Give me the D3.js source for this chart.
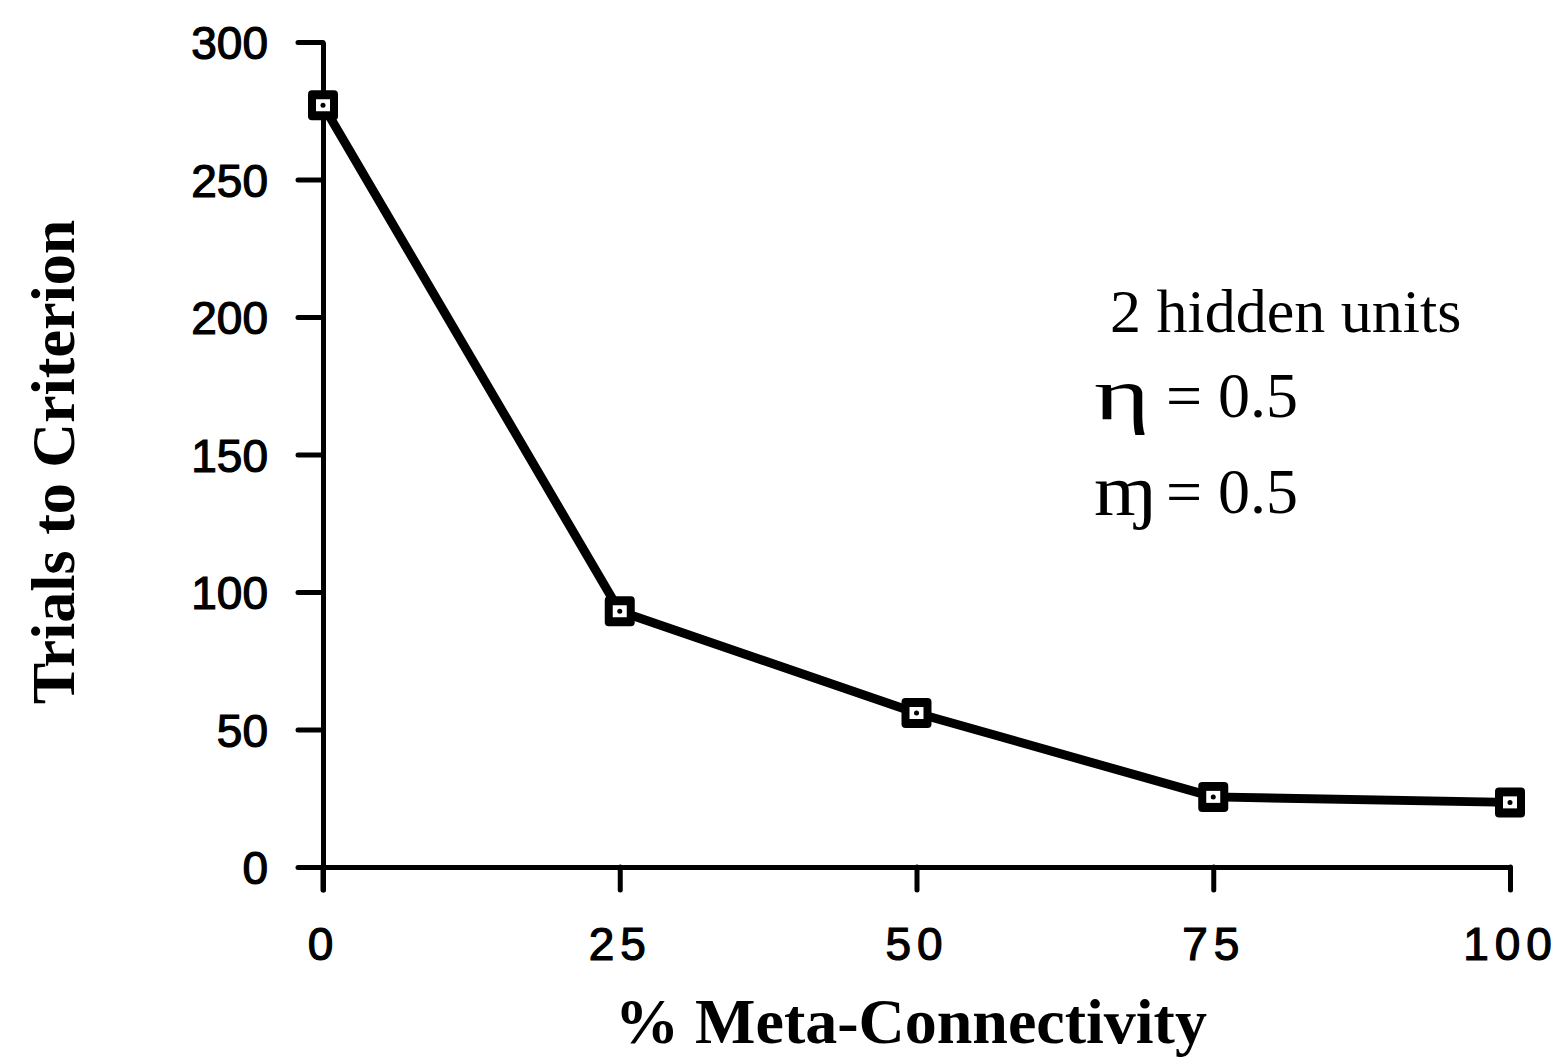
<!DOCTYPE html>
<html>
<head>
<meta charset="utf-8">
<script src="https://cdn.jsdelivr.net/npm/d3@7"></script>
<style>
  body { margin: 0; background: #fff; }
  svg { display: block; }
</style>
</head>
<body>
<svg id="chart" width="1562" height="1057"></svg>
<script>
// data
const connectivity = [0, 25, 50, 75, 100];
const trials = [277, 93, 56, 25.5, 23.5];
const yTicks = [0, 50, 100, 150, 200, 250, 300];
const noteTitle = "2 hidden units";
const noteParams = [["\u03B7", "0.5"], ["\u0271", "0.5"]];

const svg = d3.select("#chart");
const x = d3.scaleLinear().domain([0, 100]).range([323, 1510]);
const y = d3.scaleLinear().domain([0, 300]).range([867, 42]);

const ink = "#000";
const sans = "'Liberation Sans', Arial, sans-serif";
const serif = "'Liberation Serif', 'Times New Roman', serif";

// axes, drawn thick like the original print
const xAxis = d3.axisBottom(x).tickValues(connectivity).tickSize(23).tickSizeOuter(0);
const yAxis = d3.axisLeft(y).tickValues(yTicks).tickSize(25).tickSizeOuter(0);

const gx = svg.append("g").attr("transform", `translate(0,${y(0)})`).call(xAxis);
const gy = svg.append("g").attr("transform", `translate(${x(0)},0)`).call(yAxis);

[gx, gy].forEach(g => {
  g.select(".domain").attr("stroke", ink).attr("stroke-width", 5);
  g.selectAll(".tick line").attr("stroke", ink).attr("stroke-width", 5).attr("stroke-linecap", "round");
  g.selectAll(".tick text")
    .attr("fill", ink)
    .attr("stroke", ink)
    .attr("stroke-width", 1.2)
    .attr("font-family", sans)
    .attr("font-size", 46);
});
// x labels are printed with wide letter spacing
gx.selectAll(".tick text")
  .attr("y", 93).attr("dy", 0)
  .attr("letter-spacing", 6);
gy.selectAll(".tick text").attr("x", -55).attr("dy", "0.36em");

// y axis continues below the 0 line, like the original
svg.append("line")
  .attr("x1", x(0)).attr("x2", x(0))
  .attr("y1", y(0)).attr("y2", y(0) + 23)
  .attr("stroke", ink).attr("stroke-width", 5).attr("stroke-linecap", "round");

// data line
const line = d3.line().x((d, i) => x(connectivity[i])).y(d => y(d));
svg.append("path")
  .datum(trials)
  .attr("d", line)
  .attr("fill", "none")
  .attr("stroke", ink)
  .attr("stroke-width", 9)
  .attr("stroke-linejoin", "round");

// square markers with a white centre and a dot
const pts = svg.append("g").selectAll("g").data(trials).join("g")
  .attr("transform", (d, i) => `translate(${x(connectivity[i])},${y(d)})`);
pts.append("rect").attr("x", -15).attr("y", -15).attr("width", 30).attr("height", 30)
  .attr("rx", 4).attr("fill", ink);
pts.append("rect").attr("x", -7).attr("y", -6).attr("width", 14).attr("height", 12)
  .attr("fill", "#fff");
pts.append("circle").attr("r", 2.5).attr("fill", ink);

// axis titles
svg.append("text")
  .attr("x", 911).attr("y", 1043)
  .attr("text-anchor", "middle")
  .attr("font-family", serif)
  .attr("font-weight", "bold")
  .attr("font-size", 64)
  .text("% Meta-Connectivity");

svg.append("text")
  .attr("transform", "translate(74,462) rotate(-90)")
  .attr("text-anchor", "middle")
  .attr("font-family", serif)
  .attr("font-weight", "bold")
  .attr("font-size", 62)
  .text("Trials to Criterion");

// parameter note
svg.append("text")
  .attr("x", 1110).attr("y", 332)
  .attr("font-family", serif)
  .attr("font-size", 62)
  .text(noteTitle);

const baselines = [419, 515];
const symSize = [74, 72];
const symScale = [1.45, 1.12];
const params = svg.append("g").selectAll("g").data(noteParams).join("g");
// the greek symbols are drawn big and wide, like the script glyphs in the print
params.append("text")
  .attr("transform", (d, i) => `translate(1094,${baselines[i]}) scale(${symScale[i]},1)`)
  .attr("font-family", serif)
  .attr("font-size", (d, i) => symSize[i])
  .text(d => d[0]);
params.append("text")
  .attr("y", (d, i) => baselines[i] - 2)
  .attr("font-family", serif)
  .attr("font-size", 64)
  .call(t => t.append("tspan").attr("x", 1166).text("="))
  .call(t => t.append("tspan").attr("x", 1218).text(d => d[1]));
</script>
</body>
</html>
